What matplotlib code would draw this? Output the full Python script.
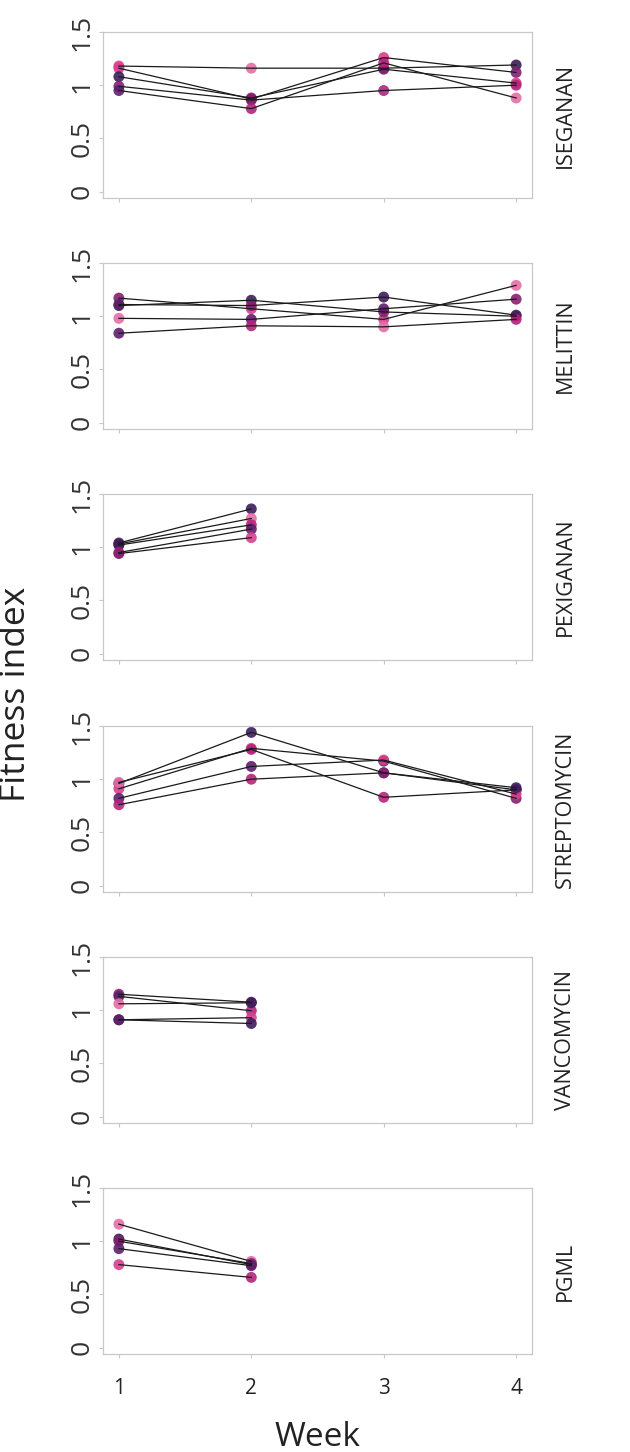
import matplotlib
matplotlib.use("Agg")
import matplotlib.pyplot as plt

plt.rcParams['font.family'] = ['Open Sans', 'DejaVu Sans']

drugs = ["ISEGANAN", "MELITTIN", "PEXIGANAN", "STREPTOMYCIN", "VANCOMYCIN", "PGML"]
week_ticks = [1, 2, 3, 4]
y_ticks = [0, 0.5, 1, 1.5]
y_tick_labels = ["0", "0.5", "1", "1.5"]

palette = ["#3e1d5c", "#5f1f6e", "#862071", "#b4237c", "#d93f8e", "#e66ea6"]

# fitness index per replicate line (rows) and week (columns)
iseganan = [[1.18, 1.16, 1.16, 1.19],
            [1.16, 0.87, 1.26, 1.12],
            [1.08, 0.88, 1.15, 1.02],
            [0.99, 0.86, 0.95, 1.00],
            [0.95, 0.78, 1.21, 0.88]]
melittin = [[1.17, 1.07, 0.97, 1.29],
            [1.10, 1.15, 1.04, 1.00],
            [1.11, 1.10, 1.18, 1.01],
            [0.98, 0.97, 1.07, 1.16],
            [0.84, 0.91, 0.90, 0.97]]
pexiganan = [[1.04, 1.36],
             [1.03, 1.27],
             [1.02, 1.21],
             [0.95, 1.17],
             [0.94, 1.09]]
streptomycin = [[0.96, 1.44, 1.06, 0.90],
                [0.91, 1.29, 1.17, 0.82],
                [0.97, 1.28, 0.83, 0.90],
                [0.82, 1.12, 1.18, 0.86],
                [0.76, 1.00, 1.06, 0.92]]
vancomycin = [[1.15, 1.075],
              [1.13, 0.995],
              [1.06, 1.07],
              [0.91, 0.93],
              [0.91, 0.875]]
pgml = [[1.16, 0.81],
        [1.02, 0.78],
        [1.00, 0.79],
        [0.93, 0.77],
        [0.78, 0.66]]

# palette index of each point
iseganan_col = [[4, 5, 1, 0], [4, 0, 4, 2], [0, 2, 2, 4], [2, 2, 3, 3], [1, 3, 3, 5]]
melittin_col = [[2, 4, 4, 5], [0, 0, 2, 3], [1, 2, 0, 0], [5, 1, 1, 2], [1, 3, 5, 3]]
pexiganan_col = [[1, 0], [0, 5], [0, 3], [3, 1], [2, 4]]
streptomycin_col = [[0, 0, 1, 0], [4, 4, 0, 2], [5, 3, 3, 1], [1, 1, 4, 4], [3, 3, 2, 0]]
vancomycin_col = [[2, 1], [1, 3], [5, 0], [0, 4], [1, 0]]
pgml_col = [[5, 5], [0, 1], [2, 2], [1, 1], [4, 3]]

data = [iseganan, melittin, pexiganan, streptomycin, vancomycin, pgml]
cols = [iseganan_col, melittin_col, pexiganan_col, streptomycin_col, vancomycin_col, pgml_col]

W, H = 630, 1452
fig = plt.figure(figsize=(W / 100, H / 100), dpi=100)

left, right = 103, 532
tops = [32, 263, 494, 726, 957, 1188]
ph = 166

for i, drug in enumerate(drugs):
    ax = fig.add_axes([left / W, 1 - (tops[i] + ph) / H, (right - left) / W, ph / H])
    for line, cl in zip(data[i], cols[i]):
        wk = week_ticks[:len(line)]
        ax.scatter(wk, line, s=62, c=[palette[k] for k in cl], alpha=0.9,
                   edgecolors='none', zorder=2)
        ax.plot(wk, line, color='#1a1a1a', lw=0.9, zorder=3)

    ax.set_xlim(0.88, 4.12)
    ax.set_ylim(-0.06, 1.5)
    ax.set_xticks(week_ticks)
    ax.set_yticks(y_ticks)
    ax.set_yticklabels(y_tick_labels, rotation=90, va='center')
    for s in ax.spines.values():
        s.set_color('#c8c8c8')
        s.set_linewidth(0.9)
    ax.tick_params(axis='y', length=3, color='#c8c8c8', labelsize=19,
                   labelcolor='#333333', pad=3)
    if i == len(drugs) - 1:
        ax.tick_params(axis='x', length=3, color='#c8c8c8', labelsize=15,
                       labelcolor='#222222', pad=14)
    else:
        ax.tick_params(axis='x', length=3, color='#c8c8c8', labelbottom=False)
    ax.text(1.077, 0.5, drug, transform=ax.transAxes, rotation=90,
            ha='center', va='center', fontsize=15.5, color='#222222')

fig.text(317.5 / W, 1 - 1437 / H, "Week", ha='center', va='center',
         fontsize=24, color='#222222')
fig.text(16 / W, 1 - 694 / H, "Fitness index", ha='center', va='center',
         rotation=90, fontsize=25.5, color='#222222')

fig.savefig("out.png", dpi=100)
